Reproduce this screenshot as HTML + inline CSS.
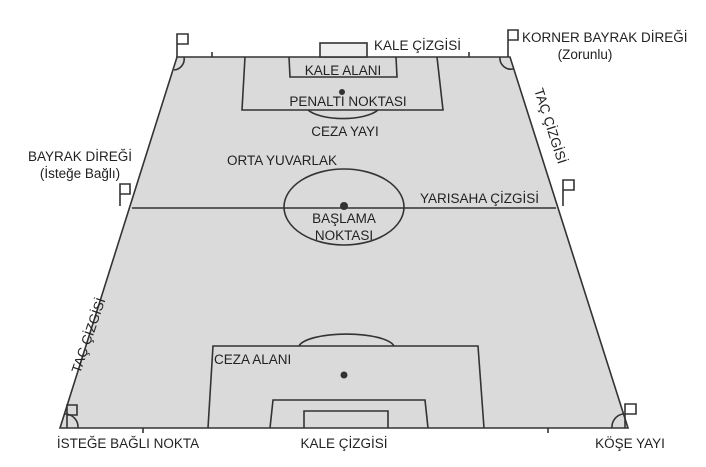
<!DOCTYPE html>
<html><head><meta charset="utf-8"><style>
html,body{margin:0;padding:0;background:#fff;}
svg{display:block;}
text{font-family:"Liberation Sans",sans-serif;font-size:13.5px;fill:#222;}
</style></head><body>
<svg width="706" height="467" viewBox="0 0 706 467" xmlns="http://www.w3.org/2000/svg">
<g stroke="#333" stroke-width="1.6" fill="none">
<polygon points="177,57 510,57 628,428 60,428" fill="#dadada"/>
<line x1="132" y1="208" x2="556" y2="208"/>
<ellipse cx="344" cy="207" rx="60" ry="38"/>
<rect x="320" y="43" width="47" height="14" fill="#eee"/>
<polyline points="245,57 242,110 443,110 437,57"/>
<polyline points="289,57 290,77 397,77 396,57"/>
<path d="M308,110 A38,14 0 0 0 378,110"/>
<polyline points="208,428 213,346 478,346 484,428"/>
<polyline points="270,428 273,400 425,400 428,428"/>
<polyline points="304,428 304,411 388,411 388,428"/>
<path d="M299,346 A48,14 0 0 1 394,346"/>
<path d="M174,70 A11,11 0 0 0 184,57"/>
<path d="M500,57 A11,11 0 0 0 513,69"/>
<path d="M65,414 A13,13 0 0 1 78,428"/>
<path d="M612,428 A13,13 0 0 1 623,414"/>
<line x1="212" y1="52" x2="212" y2="57"/><line x1="469" y1="52" x2="469" y2="57"/>
<line x1="143" y1="428" x2="143" y2="433"/><line x1="548" y1="428" x2="548" y2="433"/>
<polyline points="177,57 177,34 188,34 188,44 177,44"/>
<polyline points="508,57 508,30 518,30 518,40 508,40"/>
<polyline points="120,206 120,184 130,184 130,194 120,194"/>
<polyline points="563,206 563,180 574,180 574,190 563,190"/>
<polyline points="67,428 67,405 77,405 77,415 67,415"/>
<polyline points="625,428 625,404 636,404 636,414 625,414"/>
</g>
<circle cx="342" cy="92" r="3" fill="#333"/>
<circle cx="344" cy="206" r="4" fill="#333"/>
<circle cx="344" cy="375" r="3.5" fill="#333"/>
<text x="374" y="50">KALE ÇİZGİSİ</text>
<text x="522" y="42">KORNER BAYRAK DİREĞİ</text>
<text x="585" y="59" text-anchor="middle">(Zorunlu)</text>
<text x="343" y="75" text-anchor="middle">KALE ALANI</text>
<text x="348" y="106" text-anchor="middle">PENALTI NOKTASI</text>
<text x="345" y="136" text-anchor="middle">CEZA YAYI</text>
<text x="282" y="165" text-anchor="middle">ORTA YUVARLAK</text>
<text x="80" y="161" text-anchor="middle">BAYRAK DİREĞİ</text>
<text x="80" y="178" text-anchor="middle">(İsteğe Bağlı)</text>
<text x="420" y="203">YARISAHA ÇİZGİSİ</text>
<text x="344" y="223" text-anchor="middle">BAŞLAMA</text>
<text x="344" y="240" text-anchor="middle">NOKTASI</text>
<text x="214" y="364">CEZA ALANI</text>
<text x="128" y="448" text-anchor="middle">İSTEĞE BAĞLI NOKTA</text>
<text x="344" y="448" text-anchor="middle">KALE ÇİZGİSİ</text>
<text x="630" y="448" text-anchor="middle">KÖŞE YAYI</text>
<text transform="translate(80,374) rotate(-71)">TAÇ ÇİZGİSİ</text>
<text transform="translate(534,90) rotate(72)">TAÇ ÇİZGİSİ</text>
</svg>
</body></html>
